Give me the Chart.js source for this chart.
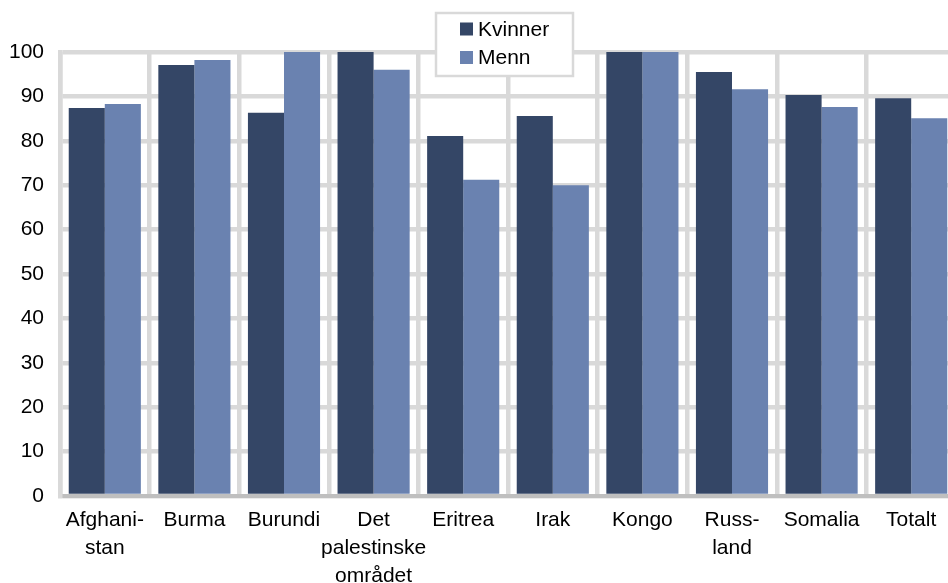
<!DOCTYPE html>
<html>
<head>
<meta charset="utf-8">
<script src="https://cdn.jsdelivr.net/npm/chart.js@4"></script>
<style>
  html, body { margin: 0; padding: 0; background: #fff; overflow: hidden; }
  #wrap { position: relative; width: 958px; height: 583px; }
</style>
</head>
<body>
<div id="wrap"><canvas id="barChart"></canvas></div>
<script>
const categories = [
    ['Afghani-', 'stan'], 'Burma', 'Burundi', ['Det', 'palestinske', 'området'],
    'Eritrea', 'Irak', 'Kongo', ['Russ-', 'land'], 'Somalia', 'Totalt'
];
const kvinner = [87.4, 97.1, 86.3, 100, 81.1, 85.6, 100, 95.5, 90.3, 89.6];
const menn = [88.3, 98.2, 100, 96.0, 71.2, 70.0, 100, 91.6, 87.6, 85.1];
const yTicks = [0, 10, 20, 30, 40, 50, 60, 70, 80, 90, 100];

const FONT = "'Liberation Sans', Arial, sans-serif";

// legend in a bordered box, items stacked
const boxLegend = {
    id: 'boxLegend',
    afterDraw(chart) {
        const ctx = chart.ctx;
        ctx.save();
        ctx.fillStyle = '#ffffff';
        ctx.fillRect(436, 13, 137, 63);
        ctx.strokeStyle = '#d9d9d9';
        ctx.lineWidth = 2.5;
        ctx.strokeRect(436, 13, 137, 63);
        ctx.font = '21px ' + FONT;
        ctx.textBaseline = 'middle';
        chart.data.datasets.forEach((ds, i) => {
            const y = 29 + i * 28.5;
            ctx.fillStyle = ds.backgroundColor;
            ctx.fillRect(460, y - 6.5, 13, 13);
            ctx.fillStyle = '#000';
            ctx.fillText(ds.label, 478, y + 1);
        });
        ctx.restore();
    }
};

new Chart(document.getElementById('barChart'), {
    type: 'bar',
    data: {
        labels: categories,
        datasets: [
            { label: 'Kvinner', data: kvinner, backgroundColor: '#344666' },
            { label: 'Menn', data: menn, backgroundColor: '#6a82b0' }
        ]
    },
    options: {
        responsive: true,
        maintainAspectRatio: false,
        animation: false,
        layout: { padding: { top: 52, right: 2, left: 0, bottom: 0 } },
        datasets: {
            bar: { categoryPercentage: 0.805, barPercentage: 1.0 }
        },
        plugins: {
            legend: { display: false },
            tooltip: { enabled: false }
        },
        scales: {
            x: {
                afterFit(scale) { scale.height = 87; },
                grid: { color: '#d9d9d9', lineWidth: 4.5, drawTicks: false, offset: true },
                border: { color: '#bfbfbf', width: 4 },
                ticks: {
                    color: '#000',
                    font: { family: FONT, size: 21, lineHeight: 1.34 },
                    padding: 10,
                    maxRotation: 0,
                    autoSkip: false
                }
            },
            y: {
                min: 0,
                max: 100,
                afterFit(scale) { scale.width = 60; },
                afterBuildTicks(scale) { scale.ticks = yTicks.map(v => ({ value: v })); },
                grid: { color: '#d9d9d9', lineWidth: 4.5, drawTicks: false },
                border: { color: '#d9d9d9', width: 4.5 },
                ticks: {
                    color: '#000',
                    font: { family: FONT, size: 21 },
                    padding: 16
                }
            }
        }
    },
    plugins: [boxLegend]
});
</script>
</body>
</html>
